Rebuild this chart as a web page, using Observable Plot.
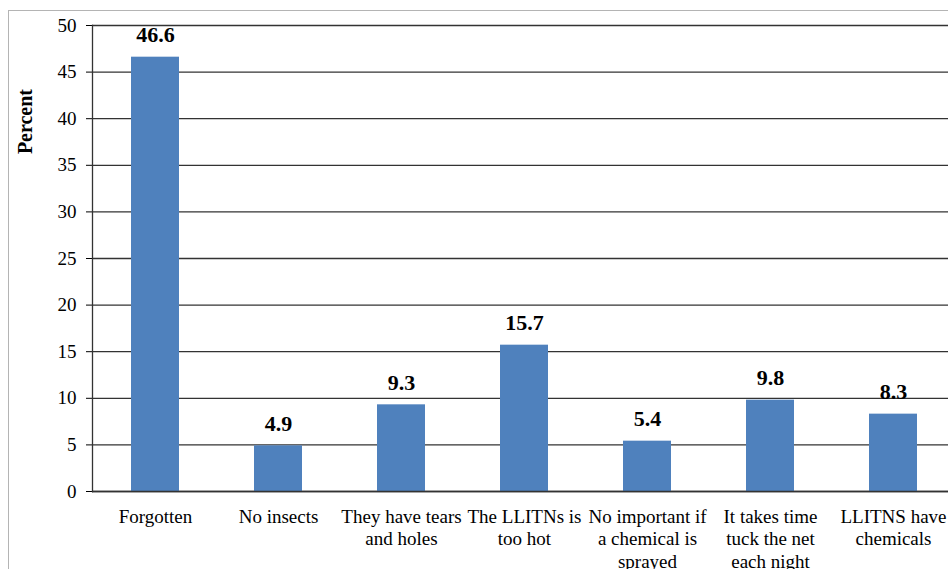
<!DOCTYPE html>
<html><head><meta charset="utf-8">
<script src="https://cdn.jsdelivr.net/npm/d3@7"></script>
<script src="https://cdn.jsdelivr.net/npm/@observablehq/plot@0.6"></script>
<style>
html,body{margin:0;padding:0;background:#fff;overflow:hidden;}
#wrap{position:relative;width:948px;height:569px;overflow:hidden;}
#border{position:absolute;left:8px;top:10px;width:2000px;height:2000px;border-left:1.5px solid #b4b4b4;border-top:1.5px solid #b4b4b4;}
#chart{position:absolute;left:0;top:0;}
#chart svg, #chart svg text{font-family:"Liberation Serif","Times New Roman",serif !important;}
</style></head>
<body><div id="wrap"><div id="border"></div><div id="chart"></div></div>
<script>
const categories = ["Forgotten", "No insects", "They have tears and holes", "The LLITNs is too hot", "No important if a chemical is sprayed", "It takes time tuck the net each night", "LLITNS have chemicals"];
const tickLabels = ["Forgotten", "No insects", "They have tears\nand holes", "The LLITNs is\ntoo hot", "No important if\na chemical is\nsprayed", "It takes time\ntuck the net\neach night", "LLITNS have\nchemicals"];
const values = [46.6, 4.9, 9.3, 15.7, 5.4, 9.8, 8.3];
const yTicks = [0, 5, 10, 15, 20, 25, 30, 35, 40, 45, 50];
const yLabel = "Percent";

const data = categories.map((c, i) => ({category: c, label: tickLabels[i], value: values[i]}));
const font = "Liberation Serif";

const chart = Plot.plot({
  width: 948, height: 569,
  marginTop: 25, marginBottom: 78, marginLeft: 92, marginRight: -7,
  style: {fontFamily: font, background: "transparent", color: "#000", overflow: "visible"},
  x: {domain: categories, paddingInner: 0.61, paddingOuter: 0.305, axis: null},
  y: {domain: [0, 50], axis: null},
  marks: [
    Plot.ruleY(yTicks, {stroke: "#333", strokeWidth: 1.3}),
    Plot.barY(data, {x: "category", y: "value", fill: "#4F81BD"}),
    Plot.ruleY([0], {stroke: "#333", strokeWidth: 1.5}),
    Plot.axisY({ticks: yTicks, tickSize: 6, tickPadding: 10, fontSize: 19, label: null, fontFamily: font}),
    Plot.frame({anchor: "left", stroke: "#333", strokeWidth: 1.3}),
    Plot.text(data, {x: "category", y: "value", text: d => d.value.toFixed(1), fontWeight: "bold", fontSize: 22, lineAnchor: "bottom", dy: -15, fontFamily: font}),
    Plot.text(data, {x: "category", text: "label", frameAnchor: "bottom", lineAnchor: "top", dy: 15, fontSize: 19, lineHeight: 1.2, fontFamily: font}),
    Plot.text([yLabel], {y: () => 36.2, text: d => d, frameAnchor: "left", dx: -67, rotate: -90, fontWeight: "bold", fontSize: 20, fontFamily: font})
  ]
});
document.getElementById("chart").appendChild(chart);
</script>
</body></html>
